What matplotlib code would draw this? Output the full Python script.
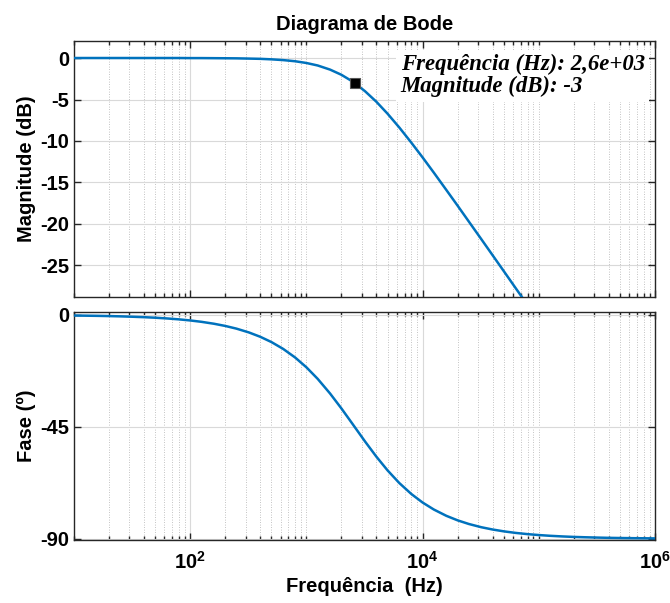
import numpy as np
import matplotlib
matplotlib.use("Agg")
import matplotlib.pyplot as plt
from matplotlib.ticker import FixedLocator, NullFormatter

# ---- data ----
freq_hz = [10, 12.5, 16, 20, 25, 32, 40, 50, 63, 80,
           100, 125, 160, 200, 250, 320, 400, 500, 630, 800,
           1000, 1250, 1600, 2000, 2500, 2600, 3200, 4000, 5000, 6300, 8000,
           10000, 12500, 16000, 20000, 25000, 32000, 40000, 50000, 63000, 80000,
           100000, 125000, 160000, 200000, 250000, 320000, 400000, 500000, 630000, 800000,
           1000000]
magnitude_db = [0.00, 0.00, 0.00, 0.00, 0.00, 0.00, 0.00, 0.00, 0.00, 0.00,
                -0.01, -0.01, -0.02, -0.03, -0.04, -0.07, -0.10, -0.16, -0.25, -0.39,
                -0.60, -0.90, -1.40, -2.02, -2.84, -3.01, -4.01, -5.27, -6.72, -8.37, -10.20,
                -11.98, -13.82, -15.90, -17.79, -19.71, -21.83, -23.76, -25.69, -27.70, -29.77,
                -31.70, -33.64, -35.78, -37.72, -39.66, -41.80, -43.74, -45.68, -47.69, -49.76,
                -51.70]
phase_deg = [-0.22, -0.28, -0.35, -0.44, -0.55, -0.71, -0.88, -1.10, -1.39, -1.76,
             -2.20, -2.75, -3.52, -4.40, -5.49, -7.02, -8.75, -10.89, -13.62, -17.10,
             -21.04, -25.68, -31.61, -37.57, -43.88, -45.00, -50.91, -56.98, -62.53, -67.58, -72.00,
             -75.43, -78.25, -80.77, -82.59, -84.06, -85.36, -86.28, -87.02, -87.64, -88.14,
             -88.51, -88.81, -89.07, -89.26, -89.40, -89.53, -89.63, -89.70, -89.76, -89.81,
             -89.85]
tip_freq = 2600
tip_mag = -3
mag_ticks = [0, -5, -10, -15, -20, -25]
phase_ticks = [0, -45, -90]
x_major = [1e2, 1e4, 1e6]
x_labels = ["$\\mathbf{10^{2}}$", "$\\mathbf{10^{4}}$", "$\\mathbf{10^{6}}$"]

plt.rcParams['font.family'] = ['Liberation Sans', 'DejaVu Sans']
plt.rcParams['mathtext.fontset'] = 'custom'
plt.rcParams['mathtext.rm'] = 'Liberation Sans:bold'
plt.rcParams['mathtext.bf'] = 'Liberation Sans:bold'

line_color = '#0072BD'
frame_color = '#262626'
fs = 14.5

fig = plt.figure(figsize=(6.70, 6.03), dpi=100)
ax1 = fig.add_axes([74/670, 1-297/603, (655-74)/670, (297-41)/603])
ax2 = fig.add_axes([74/670, 1-540/603, (655-74)/670, (540-312)/603])

minor = [k*10.0**n for n in range(1, 6) for k in range(1, 10)
         if k*10.0**n not in x_major]

for ax in (ax1, ax2):
    ax.set_xscale('log')
    ax.set_xlim(10, 1e6)
    ax.xaxis.set_major_locator(FixedLocator(x_major))
    ax.xaxis.set_minor_locator(FixedLocator(minor))
    ax.xaxis.set_minor_formatter(NullFormatter())
    ax.grid(True, which='major', axis='both', color='#d9d9d9', linewidth=0.8, linestyle='-')
    ax.grid(True, which='minor', axis='x', color='#b0b0b0', linewidth=0.6, linestyle=(0, (1, 2)))
    ax.set_axisbelow(True)
    ax.tick_params(which='both', direction='in', top=True, right=True,
                   color=frame_color, width=1.0)
    ax.tick_params(which='major', length=5, labelsize=fs)
    ax.tick_params(which='minor', length=3)
    for sp in ax.spines.values():
        sp.set_color(frame_color)
        sp.set_linewidth(1.0)

ax1.plot(freq_hz, magnitude_db, color=line_color, linewidth=1.8, zorder=3)
ax1.set_ylim(-28.8, 2.05)
ax1.set_yticks(mag_ticks)
ax1.set_yticklabels([str(v) for v in mag_ticks], fontweight='bold')
ax1.xaxis.set_major_formatter(NullFormatter())
ax1.set_ylabel('Magnitude (dB)', fontsize=fs, fontweight='bold', labelpad=3)
ax1.set_title('Diagrama de Bode', fontsize=fs, fontweight='bold', pad=8)

ax1.plot([tip_freq], [tip_mag], marker='s', markersize=7, color='black',
         markeredgecolor='#555555', markeredgewidth=0.8, zorder=5, linestyle='none')
ax1.text(0.562, 0.95,
         'Frequência (Hz): 2,6e+03\nMagnitude (dB): -3',
         transform=ax1.transAxes, ha='left', va='top',
         family=['Liberation Serif', 'DejaVu Serif'], fontstyle='italic',
         fontweight='bold', fontsize=16.4, linespacing=1.08, zorder=6,
         bbox=dict(facecolor='white', edgecolor='none', pad=3))

ax2.plot(freq_hz, phase_deg, color=line_color, linewidth=1.8, zorder=3)
ax2.set_ylim(-90.5, 1.2)
ax2.set_yticks(phase_ticks)
ax2.set_yticklabels([str(v) for v in phase_ticks], fontweight='bold')
ax2.set_xticklabels(x_labels)
ax2.tick_params(axis='x', which='major', pad=8, labelsize=fs)
ax2.set_ylabel('Fase (º)', fontsize=fs, fontweight='bold', labelpad=3)
ax2.set_xlabel('Frequência  (Hz)', fontsize=fs, fontweight='bold', labelpad=3)

fig.savefig('out.png', dpi=100)
